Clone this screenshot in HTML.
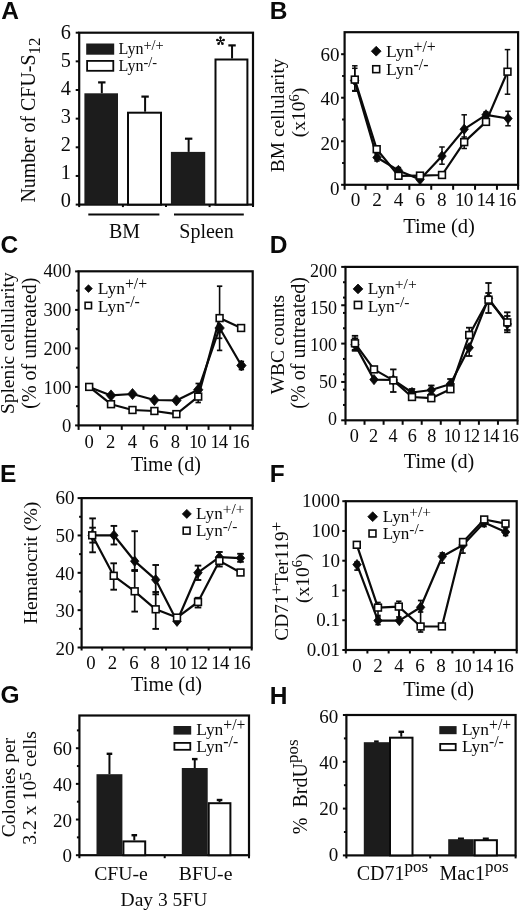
<!DOCTYPE html>
<html><head><meta charset="utf-8"><title>Figure</title>
<style>
html,body{margin:0;padding:0;background:#fff;width:520px;height:911px;overflow:hidden}
svg{display:block;will-change:transform}
text{fill:#0a0a0a;stroke:none}
</style></head><body>
<svg width="520" height="911" viewBox="0 0 520 911" stroke="#0a0a0a" fill="#0a0a0a">
<g stroke="#0a0a0a">
<text x="1.2" y="18.5" font-size="24.5" text-anchor="start" font-family='"Liberation Sans", sans-serif' font-weight="bold">A</text>
<rect x="79.2" y="32.7" width="173.8" height="171.9" fill="none" stroke-width="2.2"/>
<line x1="75.7" y1="204.6" x2="79.2" y2="204.6" stroke-width="2" stroke-linecap="butt"/>
<line x1="75.7" y1="175.95" x2="79.2" y2="175.95" stroke-width="2" stroke-linecap="butt"/>
<line x1="75.7" y1="147.3" x2="79.2" y2="147.3" stroke-width="2" stroke-linecap="butt"/>
<line x1="75.7" y1="118.65" x2="79.2" y2="118.65" stroke-width="2" stroke-linecap="butt"/>
<line x1="75.7" y1="90" x2="79.2" y2="90" stroke-width="2" stroke-linecap="butt"/>
<line x1="75.7" y1="61.35" x2="79.2" y2="61.35" stroke-width="2" stroke-linecap="butt"/>
<line x1="75.7" y1="32.7" x2="79.2" y2="32.7" stroke-width="2" stroke-linecap="butt"/>
<text x="71" y="207.46" font-size="20.3" text-anchor="end" font-family='"Liberation Serif", serif' font-weight="normal">0</text>
<text x="71" y="179.43" font-size="20.3" text-anchor="end" font-family='"Liberation Serif", serif' font-weight="normal">1</text>
<text x="71" y="151.4" font-size="20.3" text-anchor="end" font-family='"Liberation Serif", serif' font-weight="normal">2</text>
<text x="71" y="123.37" font-size="20.3" text-anchor="end" font-family='"Liberation Serif", serif' font-weight="normal">3</text>
<text x="71" y="95.34" font-size="20.3" text-anchor="end" font-family='"Liberation Serif", serif' font-weight="normal">4</text>
<text x="71" y="67.31" font-size="20.3" text-anchor="end" font-family='"Liberation Serif", serif' font-weight="normal">5</text>
<text x="71" y="39.28" font-size="20.3" text-anchor="end" font-family='"Liberation Serif", serif' font-weight="normal">6</text>
<line x1="79.2" y1="204.6" x2="79.2" y2="207.1" stroke-width="2" stroke-linecap="butt"/>
<line x1="122.9" y1="204.6" x2="122.9" y2="207.1" stroke-width="2" stroke-linecap="butt"/>
<line x1="166" y1="204.6" x2="166" y2="207.1" stroke-width="2" stroke-linecap="butt"/>
<line x1="209.6" y1="204.6" x2="209.6" y2="207.1" stroke-width="2" stroke-linecap="butt"/>
<line x1="253" y1="204.6" x2="253" y2="207.1" stroke-width="2" stroke-linecap="butt"/>
<line x1="101.8" y1="82.4" x2="101.8" y2="93.3" stroke-width="2" stroke-linecap="butt"/>
<line x1="98.1" y1="82.4" x2="105.5" y2="82.4" stroke-width="2.2" stroke-linecap="butt"/>
<rect x="84.4" y="93.3" width="33.6" height="111.3" fill="#1c1c1c" stroke="none"/>
<line x1="145.1" y1="96.6" x2="145.1" y2="111.7" stroke-width="2" stroke-linecap="butt"/>
<line x1="141.4" y1="96.6" x2="148.8" y2="96.6" stroke-width="2.2" stroke-linecap="butt"/>
<rect x="128" y="112.7" width="33" height="91.9" fill="#fff" stroke-width="2"/>
<line x1="188.65" y1="138.7" x2="188.65" y2="151.9" stroke-width="2" stroke-linecap="butt"/>
<line x1="184.95" y1="138.7" x2="192.35" y2="138.7" stroke-width="2.2" stroke-linecap="butt"/>
<rect x="170.9" y="151.9" width="34.3" height="52.7" fill="#1c1c1c" stroke="none"/>
<line x1="232.05" y1="45.4" x2="232.05" y2="58.5" stroke-width="2" stroke-linecap="butt"/>
<line x1="228.35" y1="45.4" x2="235.75" y2="45.4" stroke-width="2.2" stroke-linecap="butt"/>
<rect x="215.5" y="59.5" width="31.9" height="145.1" fill="#fff" stroke-width="2"/>
<line x1="220.5" y1="41" x2="220.5" y2="37.4" stroke-width="1.1" stroke-linecap="butt"/>
<circle cx="220.5" cy="37.7" r="1.35" fill="#0a0a0a" stroke="none"/>
<line x1="220.5" y1="41" x2="223.92" y2="39.89" stroke-width="1.1" stroke-linecap="butt"/>
<circle cx="223.64" cy="39.98" r="1.35" fill="#0a0a0a" stroke="none"/>
<line x1="220.5" y1="41" x2="222.62" y2="43.91" stroke-width="1.1" stroke-linecap="butt"/>
<circle cx="222.44" cy="43.67" r="1.35" fill="#0a0a0a" stroke="none"/>
<line x1="220.5" y1="41" x2="218.38" y2="43.91" stroke-width="1.1" stroke-linecap="butt"/>
<circle cx="218.56" cy="43.67" r="1.35" fill="#0a0a0a" stroke="none"/>
<line x1="220.5" y1="41" x2="217.08" y2="39.89" stroke-width="1.1" stroke-linecap="butt"/>
<circle cx="217.36" cy="39.98" r="1.35" fill="#0a0a0a" stroke="none"/>
<rect x="86.2" y="43.5" width="28" height="11.2" fill="#1c1c1c" stroke="none"/>
<rect x="87.1" y="60.9" width="26.2" height="9.9" fill="#fff" stroke-width="1.8"/>
<text x="118.5" y="54" font-size="16.05" text-anchor="start" font-family='"Liberation Serif", serif' font-weight="normal">Lyn<tspan font-size="14.45" dy="-4.33">+/+</tspan></text>
<text x="118.5" y="70.9" font-size="16.05" text-anchor="start" font-family='"Liberation Serif", serif' font-weight="normal">Lyn<tspan font-size="14.45" dy="-4.33">-/-</tspan></text>
<line x1="88.3" y1="214.6" x2="159.4" y2="214.6" stroke-width="2" stroke-linecap="butt"/>
<line x1="174" y1="214.6" x2="243.8" y2="214.6" stroke-width="2" stroke-linecap="butt"/>
<text x="124.5" y="237.7" font-size="20" text-anchor="middle" font-family='"Liberation Serif", serif' font-weight="normal">BM</text>
<text x="206.5" y="237.7" font-size="20" text-anchor="middle" font-family='"Liberation Serif", serif' font-weight="normal">Spleen</text>
<text x="34.7" y="202.6" font-size="19.9" text-anchor="start" font-family='"Liberation Serif", serif' font-weight="normal" transform="rotate(-90 34.7 202.6)">Number of CFU-S<tspan font-size="17" dy="5.8">12</tspan></text>
<text x="269.8" y="18.5" font-size="24.5" text-anchor="start" font-family='"Liberation Sans", sans-serif' font-weight="bold">B</text>
<rect x="344.6" y="32.2" width="173.5" height="152.6" fill="none" stroke-width="2.2"/>
<line x1="341.1" y1="184.8" x2="344.6" y2="184.8" stroke-width="2" stroke-linecap="butt"/>
<line x1="341.1" y1="141.27" x2="344.6" y2="141.27" stroke-width="2" stroke-linecap="butt"/>
<line x1="341.1" y1="97.73" x2="344.6" y2="97.73" stroke-width="2" stroke-linecap="butt"/>
<line x1="341.1" y1="54.2" x2="344.6" y2="54.2" stroke-width="2" stroke-linecap="butt"/>
<line x1="342.1" y1="163.03" x2="344.6" y2="163.03" stroke-width="2" stroke-linecap="butt"/>
<line x1="342.1" y1="119.5" x2="344.6" y2="119.5" stroke-width="2" stroke-linecap="butt"/>
<line x1="342.1" y1="75.97" x2="344.6" y2="75.97" stroke-width="2" stroke-linecap="butt"/>
<text x="339.6" y="194.67" font-size="19" text-anchor="end" font-family='"Liberation Serif", serif' font-weight="normal">0</text>
<text x="339.6" y="150.02" font-size="19" text-anchor="end" font-family='"Liberation Serif", serif' font-weight="normal">20</text>
<text x="339.6" y="105.37" font-size="19" text-anchor="end" font-family='"Liberation Serif", serif' font-weight="normal">40</text>
<text x="339.6" y="60.72" font-size="19" text-anchor="end" font-family='"Liberation Serif", serif' font-weight="normal">60</text>
<line x1="344.6" y1="184.8" x2="344.6" y2="189.8" stroke-width="2" stroke-linecap="butt"/>
<line x1="365.55" y1="184.8" x2="365.55" y2="189.8" stroke-width="2" stroke-linecap="butt"/>
<line x1="387.45" y1="184.8" x2="387.45" y2="189.8" stroke-width="2" stroke-linecap="butt"/>
<line x1="409.35" y1="184.8" x2="409.35" y2="189.8" stroke-width="2" stroke-linecap="butt"/>
<line x1="431.25" y1="184.8" x2="431.25" y2="189.8" stroke-width="2" stroke-linecap="butt"/>
<line x1="453.15" y1="184.8" x2="453.15" y2="189.8" stroke-width="2" stroke-linecap="butt"/>
<line x1="475.05" y1="184.8" x2="475.05" y2="189.8" stroke-width="2" stroke-linecap="butt"/>
<line x1="496.95" y1="184.8" x2="496.95" y2="189.8" stroke-width="2" stroke-linecap="butt"/>
<line x1="518.1" y1="184.8" x2="518.1" y2="189.8" stroke-width="2" stroke-linecap="butt"/>
<text x="355.5" y="206.4" font-size="19.2" text-anchor="middle" font-family='"Liberation Serif", serif' font-weight="normal">0</text>
<text x="377.07" y="206.4" font-size="19.2" text-anchor="middle" font-family='"Liberation Serif", serif' font-weight="normal">2</text>
<text x="398.64" y="206.4" font-size="19.2" text-anchor="middle" font-family='"Liberation Serif", serif' font-weight="normal">4</text>
<text x="420.21" y="206.4" font-size="19.2" text-anchor="middle" font-family='"Liberation Serif", serif' font-weight="normal">6</text>
<text x="441.78" y="206.4" font-size="19.2" text-anchor="middle" font-family='"Liberation Serif", serif' font-weight="normal">8</text>
<text x="463.75" y="206.4" font-size="19.2" text-anchor="middle" font-family='"Liberation Serif", serif' font-weight="normal" letter-spacing="-0.8">10</text>
<text x="485.32" y="206.4" font-size="19.2" text-anchor="middle" font-family='"Liberation Serif", serif' font-weight="normal" letter-spacing="-0.8">14</text>
<text x="506.89" y="206.4" font-size="19.2" text-anchor="middle" font-family='"Liberation Serif", serif' font-weight="normal" letter-spacing="-0.8">16</text>
<text x="439.1" y="233.4" font-size="20.5" text-anchor="middle" font-family='"Liberation Serif", serif' font-weight="normal">Time (d)</text>
<text x="284" y="115.3" font-size="19.4" text-anchor="middle" font-family='"Liberation Serif", serif' font-weight="normal" transform="rotate(-90 284 115.3)">BM cellularity</text>
<text x="305.5" y="112.6" font-size="19.5" text-anchor="middle" font-family='"Liberation Serif", serif' font-weight="normal" transform="rotate(-90 305.5 112.6)">(x10<tspan font-size="14.5" dy="-6.8">6</tspan><tspan dy="6.8">)</tspan></text>
<line x1="354.8" y1="65.8" x2="354.8" y2="91.2" stroke-width="1.5" stroke-linecap="butt"/>
<line x1="352.05" y1="65.8" x2="357.55" y2="65.8" stroke-width="1.5" stroke-linecap="butt"/>
<line x1="352.05" y1="91.2" x2="357.55" y2="91.2" stroke-width="1.5" stroke-linecap="butt"/>
<line x1="354.8" y1="68.3" x2="354.8" y2="90.6" stroke-width="1.5" stroke-linecap="butt"/>
<line x1="352.05" y1="68.3" x2="357.55" y2="68.3" stroke-width="1.5" stroke-linecap="butt"/>
<line x1="352.05" y1="90.6" x2="357.55" y2="90.6" stroke-width="1.5" stroke-linecap="butt"/>
<line x1="377" y1="154" x2="377" y2="161" stroke-width="1.5" stroke-linecap="butt"/>
<line x1="374.25" y1="154" x2="379.75" y2="154" stroke-width="1.5" stroke-linecap="butt"/>
<line x1="374.25" y1="161" x2="379.75" y2="161" stroke-width="1.5" stroke-linecap="butt"/>
<line x1="398.4" y1="167.5" x2="398.4" y2="173" stroke-width="1.5" stroke-linecap="butt"/>
<line x1="395.65" y1="167.5" x2="401.15" y2="167.5" stroke-width="1.5" stroke-linecap="butt"/>
<line x1="395.65" y1="173" x2="401.15" y2="173" stroke-width="1.5" stroke-linecap="butt"/>
<line x1="442" y1="147" x2="442" y2="164.2" stroke-width="1.5" stroke-linecap="butt"/>
<line x1="439.25" y1="147" x2="444.75" y2="147" stroke-width="1.5" stroke-linecap="butt"/>
<line x1="439.25" y1="164.2" x2="444.75" y2="164.2" stroke-width="1.5" stroke-linecap="butt"/>
<line x1="464.2" y1="114.8" x2="464.2" y2="143.6" stroke-width="1.5" stroke-linecap="butt"/>
<line x1="461.45" y1="114.8" x2="466.95" y2="114.8" stroke-width="1.5" stroke-linecap="butt"/>
<line x1="461.45" y1="143.6" x2="466.95" y2="143.6" stroke-width="1.5" stroke-linecap="butt"/>
<line x1="464.2" y1="137" x2="464.2" y2="148.5" stroke-width="1.5" stroke-linecap="butt"/>
<line x1="461.45" y1="137" x2="466.95" y2="137" stroke-width="1.5" stroke-linecap="butt"/>
<line x1="461.45" y1="148.5" x2="466.95" y2="148.5" stroke-width="1.5" stroke-linecap="butt"/>
<line x1="486" y1="112" x2="486" y2="118" stroke-width="1.5" stroke-linecap="butt"/>
<line x1="483.25" y1="112" x2="488.75" y2="112" stroke-width="1.5" stroke-linecap="butt"/>
<line x1="483.25" y1="118" x2="488.75" y2="118" stroke-width="1.5" stroke-linecap="butt"/>
<line x1="508" y1="111.3" x2="508" y2="125.8" stroke-width="1.5" stroke-linecap="butt"/>
<line x1="505.25" y1="111.3" x2="510.75" y2="111.3" stroke-width="1.5" stroke-linecap="butt"/>
<line x1="505.25" y1="125.8" x2="510.75" y2="125.8" stroke-width="1.5" stroke-linecap="butt"/>
<line x1="507.5" y1="49.6" x2="507.5" y2="94.2" stroke-width="1.5" stroke-linecap="butt"/>
<line x1="504.75" y1="49.6" x2="510.25" y2="49.6" stroke-width="1.5" stroke-linecap="butt"/>
<line x1="504.75" y1="94.2" x2="510.25" y2="94.2" stroke-width="1.5" stroke-linecap="butt"/>
<polyline points="354.6,80.5 377,157.5 398.4,170.4 420,179.6 442,156.1 464.2,129.2 486,114.8 508,118.5" fill="none" stroke-width="2.2" stroke-linejoin="round"/>
<polyline points="354.8,79.6 376.7,149.2 398.5,175.8 420,175.6 442,175 464.2,142.1 486,121.9 507.5,71.7" fill="none" stroke-width="2.2" stroke-linejoin="round"/>
<path d="M354.6 75.4L358.8 80.5L354.6 85.6L350.4 80.5Z" fill="#0a0a0a" stroke="#0a0a0a" stroke-width="0.8" stroke-linejoin="miter"/>
<path d="M377 152.4L381.2 157.5L377 162.6L372.8 157.5Z" fill="#0a0a0a" stroke="#0a0a0a" stroke-width="0.8" stroke-linejoin="miter"/>
<path d="M398.4 165.3L402.6 170.4L398.4 175.5L394.2 170.4Z" fill="#0a0a0a" stroke="#0a0a0a" stroke-width="0.8" stroke-linejoin="miter"/>
<path d="M420 174.5L424.2 179.6L420 184.7L415.8 179.6Z" fill="#0a0a0a" stroke="#0a0a0a" stroke-width="0.8" stroke-linejoin="miter"/>
<path d="M442 151L446.2 156.1L442 161.2L437.8 156.1Z" fill="#0a0a0a" stroke="#0a0a0a" stroke-width="0.8" stroke-linejoin="miter"/>
<path d="M464.2 124.1L468.4 129.2L464.2 134.3L460 129.2Z" fill="#0a0a0a" stroke="#0a0a0a" stroke-width="0.8" stroke-linejoin="miter"/>
<path d="M486 109.7L490.2 114.8L486 119.9L481.8 114.8Z" fill="#0a0a0a" stroke="#0a0a0a" stroke-width="0.8" stroke-linejoin="miter"/>
<path d="M508 113.4L512.2 118.5L508 123.6L503.8 118.5Z" fill="#0a0a0a" stroke="#0a0a0a" stroke-width="0.8" stroke-linejoin="miter"/>
<rect x="351.4" y="76.2" width="6.8" height="6.8" fill="#fff" stroke-width="1.6"/>
<rect x="373.3" y="145.8" width="6.8" height="6.8" fill="#fff" stroke-width="1.6"/>
<rect x="395.1" y="172.4" width="6.8" height="6.8" fill="#fff" stroke-width="1.6"/>
<rect x="416.6" y="172.2" width="6.8" height="6.8" fill="#fff" stroke-width="1.6"/>
<rect x="438.6" y="171.6" width="6.8" height="6.8" fill="#fff" stroke-width="1.6"/>
<rect x="460.8" y="138.7" width="6.8" height="6.8" fill="#fff" stroke-width="1.6"/>
<rect x="482.6" y="118.5" width="6.8" height="6.8" fill="#fff" stroke-width="1.6"/>
<rect x="504.1" y="68.3" width="6.8" height="6.8" fill="#fff" stroke-width="1.6"/>
<path d="M376.2 46.3L381.1 51.2L376.2 56.1L371.3 51.2Z" fill="#0a0a0a" stroke="#0a0a0a" stroke-width="0.8" stroke-linejoin="miter"/>
<rect x="372.75" y="65.75" width="6.9" height="6.9" fill="#fff" stroke-width="1.6"/>
<text x="386" y="57" font-size="17.66" text-anchor="start" font-family='"Liberation Serif", serif' font-weight="normal">Lyn<tspan font-size="15.89" dy="-4.77">+/+</tspan></text>
<text x="386" y="75" font-size="17.66" text-anchor="start" font-family='"Liberation Serif", serif' font-weight="normal">Lyn<tspan font-size="15.89" dy="-4.77">-/-</tspan></text>
<text x="0.5" y="253" font-size="24.5" text-anchor="start" font-family='"Liberation Sans", sans-serif' font-weight="bold">C</text>
<rect x="78.6" y="271.3" width="174.1" height="154.1" fill="none" stroke-width="2.2"/>
<line x1="75.1" y1="425.4" x2="78.6" y2="425.4" stroke-width="2" stroke-linecap="butt"/>
<line x1="75.1" y1="386.9" x2="78.6" y2="386.9" stroke-width="2" stroke-linecap="butt"/>
<line x1="75.1" y1="348.4" x2="78.6" y2="348.4" stroke-width="2" stroke-linecap="butt"/>
<line x1="75.1" y1="309.9" x2="78.6" y2="309.9" stroke-width="2" stroke-linecap="butt"/>
<line x1="75.1" y1="271.4" x2="78.6" y2="271.4" stroke-width="2" stroke-linecap="butt"/>
<line x1="76.1" y1="406.15" x2="78.6" y2="406.15" stroke-width="2" stroke-linecap="butt"/>
<line x1="76.1" y1="367.65" x2="78.6" y2="367.65" stroke-width="2" stroke-linecap="butt"/>
<line x1="76.1" y1="329.15" x2="78.6" y2="329.15" stroke-width="2" stroke-linecap="butt"/>
<line x1="76.1" y1="290.65" x2="78.6" y2="290.65" stroke-width="2" stroke-linecap="butt"/>
<text x="71.4" y="432.49" font-size="18.6" text-anchor="end" font-family='"Liberation Serif", serif' font-weight="normal">0</text>
<text x="71.4" y="393.59" font-size="18.6" text-anchor="end" font-family='"Liberation Serif", serif' font-weight="normal">100</text>
<text x="71.4" y="354.69" font-size="18.6" text-anchor="end" font-family='"Liberation Serif", serif' font-weight="normal">200</text>
<text x="71.4" y="315.79" font-size="18.6" text-anchor="end" font-family='"Liberation Serif", serif' font-weight="normal">300</text>
<text x="71.4" y="276.89" font-size="18.6" text-anchor="end" font-family='"Liberation Serif", serif' font-weight="normal">400</text>
<line x1="78.6" y1="425.4" x2="78.6" y2="429.9" stroke-width="2" stroke-linecap="butt"/>
<line x1="100.05" y1="425.4" x2="100.05" y2="429.9" stroke-width="2" stroke-linecap="butt"/>
<line x1="121.75" y1="425.4" x2="121.75" y2="429.9" stroke-width="2" stroke-linecap="butt"/>
<line x1="143.45" y1="425.4" x2="143.45" y2="429.9" stroke-width="2" stroke-linecap="butt"/>
<line x1="165.15" y1="425.4" x2="165.15" y2="429.9" stroke-width="2" stroke-linecap="butt"/>
<line x1="186.85" y1="425.4" x2="186.85" y2="429.9" stroke-width="2" stroke-linecap="butt"/>
<line x1="208.55" y1="425.4" x2="208.55" y2="429.9" stroke-width="2" stroke-linecap="butt"/>
<line x1="230.25" y1="425.4" x2="230.25" y2="429.9" stroke-width="2" stroke-linecap="butt"/>
<line x1="252.7" y1="425.4" x2="252.7" y2="429.9" stroke-width="2" stroke-linecap="butt"/>
<text x="89.25" y="447.9" font-size="18.6" text-anchor="middle" font-family='"Liberation Serif", serif' font-weight="normal">0</text>
<text x="110.77" y="447.9" font-size="18.6" text-anchor="middle" font-family='"Liberation Serif", serif' font-weight="normal">2</text>
<text x="132.29" y="447.9" font-size="18.6" text-anchor="middle" font-family='"Liberation Serif", serif' font-weight="normal">4</text>
<text x="153.81" y="447.9" font-size="18.6" text-anchor="middle" font-family='"Liberation Serif", serif' font-weight="normal">6</text>
<text x="175.33" y="447.9" font-size="18.6" text-anchor="middle" font-family='"Liberation Serif", serif' font-weight="normal">8</text>
<text x="197.3" y="447.9" font-size="18.6" text-anchor="middle" font-family='"Liberation Serif", serif' font-weight="normal" letter-spacing="-0.9">10</text>
<text x="218.82" y="447.9" font-size="18.6" text-anchor="middle" font-family='"Liberation Serif", serif' font-weight="normal" letter-spacing="-0.9">14</text>
<text x="240.34" y="447.9" font-size="18.6" text-anchor="middle" font-family='"Liberation Serif", serif' font-weight="normal" letter-spacing="-0.9">16</text>
<text x="131" y="470.8" font-size="20" text-anchor="start" font-family='"Liberation Serif", serif' font-weight="normal">Time (d)</text>
<text x="14.4" y="343.2" font-size="19.4" text-anchor="middle" font-family='"Liberation Serif", serif' font-weight="normal" transform="rotate(-90 14.4 343.2)">Splenic cellularity</text>
<text x="36" y="343.2" font-size="20" text-anchor="middle" font-family='"Liberation Serif", serif' font-weight="normal" transform="rotate(-90 36 343.2)">(% of untreated)</text>
<line x1="219.6" y1="286.2" x2="219.6" y2="318.1" stroke-width="1.6" stroke-linecap="butt"/>
<line x1="216.9" y1="286.2" x2="222.3" y2="286.2" stroke-width="1.7" stroke-linecap="butt"/>
<line x1="216.9" y1="318.1" x2="222.3" y2="318.1" stroke-width="1.7" stroke-linecap="butt"/>
<line x1="219.6" y1="328" x2="219.6" y2="350.4" stroke-width="1.6" stroke-linecap="butt"/>
<line x1="216.9" y1="328" x2="222.3" y2="328" stroke-width="1.7" stroke-linecap="butt"/>
<line x1="216.9" y1="350.4" x2="222.3" y2="350.4" stroke-width="1.7" stroke-linecap="butt"/>
<line x1="219.6" y1="328" x2="219.6" y2="338.3" stroke-width="1.6" stroke-linecap="butt"/>
<line x1="216.9" y1="328" x2="222.3" y2="328" stroke-width="1.7" stroke-linecap="butt"/>
<line x1="216.9" y1="338.3" x2="222.3" y2="338.3" stroke-width="1.7" stroke-linecap="butt"/>
<line x1="198.2" y1="383.5" x2="198.2" y2="402.5" stroke-width="1.6" stroke-linecap="butt"/>
<line x1="195.5" y1="383.5" x2="200.9" y2="383.5" stroke-width="1.7" stroke-linecap="butt"/>
<line x1="195.5" y1="402.5" x2="200.9" y2="402.5" stroke-width="1.7" stroke-linecap="butt"/>
<line x1="241.4" y1="361.5" x2="241.4" y2="369.5" stroke-width="1.6" stroke-linecap="butt"/>
<line x1="238.7" y1="361.5" x2="244.1" y2="361.5" stroke-width="1.7" stroke-linecap="butt"/>
<line x1="238.7" y1="369.5" x2="244.1" y2="369.5" stroke-width="1.7" stroke-linecap="butt"/>
<polyline points="89.2,386.9 111,395.4 132.5,394 154.4,400 176.4,400.4 198.2,389.8 219.6,328 241.4,365.5" fill="none" stroke-width="2.2" stroke-linejoin="round"/>
<polyline points="89.2,386.9 111,404.2 132.5,410 154.4,411 176.4,414.1 198.2,396.6 219.6,318.1 241.1,328" fill="none" stroke-width="2.2" stroke-linejoin="round"/>
<path d="M111 389.9L115.7 395.4L111 400.9L106.3 395.4Z" fill="#0a0a0a" stroke="#0a0a0a" stroke-width="0.8" stroke-linejoin="miter"/>
<path d="M132.5 388.5L137.2 394L132.5 399.5L127.8 394Z" fill="#0a0a0a" stroke="#0a0a0a" stroke-width="0.8" stroke-linejoin="miter"/>
<path d="M154.4 394.5L159.1 400L154.4 405.5L149.7 400Z" fill="#0a0a0a" stroke="#0a0a0a" stroke-width="0.8" stroke-linejoin="miter"/>
<path d="M176.4 394.9L181.1 400.4L176.4 405.9L171.7 400.4Z" fill="#0a0a0a" stroke="#0a0a0a" stroke-width="0.8" stroke-linejoin="miter"/>
<path d="M198.2 384.3L202.9 389.8L198.2 395.3L193.5 389.8Z" fill="#0a0a0a" stroke="#0a0a0a" stroke-width="0.8" stroke-linejoin="miter"/>
<path d="M219.6 322.5L224.3 328L219.6 333.5L214.9 328Z" fill="#0a0a0a" stroke="#0a0a0a" stroke-width="0.8" stroke-linejoin="miter"/>
<path d="M241.4 360L246.1 365.5L241.4 371L236.7 365.5Z" fill="#0a0a0a" stroke="#0a0a0a" stroke-width="0.8" stroke-linejoin="miter"/>
<rect x="85.8" y="383.5" width="6.8" height="6.8" fill="#fff" stroke-width="1.6"/>
<rect x="107.6" y="400.8" width="6.8" height="6.8" fill="#fff" stroke-width="1.6"/>
<rect x="129.1" y="406.6" width="6.8" height="6.8" fill="#fff" stroke-width="1.6"/>
<rect x="151" y="407.6" width="6.8" height="6.8" fill="#fff" stroke-width="1.6"/>
<rect x="173" y="410.7" width="6.8" height="6.8" fill="#fff" stroke-width="1.6"/>
<rect x="194.8" y="393.2" width="6.8" height="6.8" fill="#fff" stroke-width="1.6"/>
<rect x="216.2" y="314.7" width="6.8" height="6.8" fill="#fff" stroke-width="1.6"/>
<rect x="237.7" y="324.6" width="6.8" height="6.8" fill="#fff" stroke-width="1.6"/>
<path d="M88.5 284.8L92.3 288.6L88.5 292.4L84.7 288.6Z" fill="#0a0a0a" stroke="#0a0a0a" stroke-width="0.8" stroke-linejoin="miter"/>
<rect x="85.1" y="302.3" width="6.4" height="6.4" fill="#fff" stroke-width="1.6"/>
<text x="97.7" y="294.2" font-size="17.55" text-anchor="start" font-family='"Liberation Serif", serif' font-weight="normal">Lyn<tspan font-size="15.79" dy="-4.74">+/+</tspan></text>
<text x="97.7" y="312" font-size="17.55" text-anchor="start" font-family='"Liberation Serif", serif' font-weight="normal">Lyn<tspan font-size="15.79" dy="-4.74">-/-</tspan></text>
<text x="269.8" y="253.3" font-size="24.5" text-anchor="start" font-family='"Liberation Sans", sans-serif' font-weight="bold">D</text>
<rect x="345.5" y="266.9" width="172" height="153.4" fill="none" stroke-width="2.2"/>
<line x1="341.2" y1="420.3" x2="345.5" y2="420.3" stroke-width="2" stroke-linecap="butt"/>
<line x1="341.2" y1="381.95" x2="345.5" y2="381.95" stroke-width="2" stroke-linecap="butt"/>
<line x1="341.2" y1="343.6" x2="345.5" y2="343.6" stroke-width="2" stroke-linecap="butt"/>
<line x1="341.2" y1="305.25" x2="345.5" y2="305.25" stroke-width="2" stroke-linecap="butt"/>
<line x1="341.2" y1="266.9" x2="345.5" y2="266.9" stroke-width="2" stroke-linecap="butt"/>
<line x1="343" y1="404.96" x2="345.5" y2="404.96" stroke-width="2" stroke-linecap="butt"/>
<line x1="343" y1="389.62" x2="345.5" y2="389.62" stroke-width="2" stroke-linecap="butt"/>
<line x1="343" y1="374.28" x2="345.5" y2="374.28" stroke-width="2" stroke-linecap="butt"/>
<line x1="343" y1="358.94" x2="345.5" y2="358.94" stroke-width="2" stroke-linecap="butt"/>
<line x1="343" y1="328.26" x2="345.5" y2="328.26" stroke-width="2" stroke-linecap="butt"/>
<line x1="343" y1="312.92" x2="345.5" y2="312.92" stroke-width="2" stroke-linecap="butt"/>
<line x1="343" y1="297.58" x2="345.5" y2="297.58" stroke-width="2" stroke-linecap="butt"/>
<line x1="343" y1="282.24" x2="345.5" y2="282.24" stroke-width="2" stroke-linecap="butt"/>
<text x="337" y="425.08" font-size="18" text-anchor="end" font-family='"Liberation Serif", serif' font-weight="normal">0</text>
<text x="337" y="387.98" font-size="18" text-anchor="end" font-family='"Liberation Serif", serif' font-weight="normal">50</text>
<text x="337" y="350.88" font-size="18" text-anchor="end" font-family='"Liberation Serif", serif' font-weight="normal">100</text>
<text x="337" y="313.78" font-size="18" text-anchor="end" font-family='"Liberation Serif", serif' font-weight="normal">150</text>
<text x="337" y="276.68" font-size="18" text-anchor="end" font-family='"Liberation Serif", serif' font-weight="normal">200</text>
<line x1="345.5" y1="420.3" x2="345.5" y2="424.8" stroke-width="2" stroke-linecap="butt"/>
<line x1="364.53" y1="420.3" x2="364.53" y2="424.8" stroke-width="2" stroke-linecap="butt"/>
<line x1="383.59" y1="420.3" x2="383.59" y2="424.8" stroke-width="2" stroke-linecap="butt"/>
<line x1="402.65" y1="420.3" x2="402.65" y2="424.8" stroke-width="2" stroke-linecap="butt"/>
<line x1="421.71" y1="420.3" x2="421.71" y2="424.8" stroke-width="2" stroke-linecap="butt"/>
<line x1="440.77" y1="420.3" x2="440.77" y2="424.8" stroke-width="2" stroke-linecap="butt"/>
<line x1="459.83" y1="420.3" x2="459.83" y2="424.8" stroke-width="2" stroke-linecap="butt"/>
<line x1="478.89" y1="420.3" x2="478.89" y2="424.8" stroke-width="2" stroke-linecap="butt"/>
<line x1="497.95" y1="420.3" x2="497.95" y2="424.8" stroke-width="2" stroke-linecap="butt"/>
<line x1="517.5" y1="420.3" x2="517.5" y2="424.8" stroke-width="2" stroke-linecap="butt"/>
<text x="354.25" y="441.6" font-size="18.2" text-anchor="middle" font-family='"Liberation Serif", serif' font-weight="normal">0</text>
<text x="373.62" y="441.6" font-size="18.2" text-anchor="middle" font-family='"Liberation Serif", serif' font-weight="normal">2</text>
<text x="392.99" y="441.6" font-size="18.2" text-anchor="middle" font-family='"Liberation Serif", serif' font-weight="normal">4</text>
<text x="412.36" y="441.6" font-size="18.2" text-anchor="middle" font-family='"Liberation Serif", serif' font-weight="normal">6</text>
<text x="431.73" y="441.6" font-size="18.2" text-anchor="middle" font-family='"Liberation Serif", serif' font-weight="normal">8</text>
<text x="451.6" y="441.6" font-size="18.2" text-anchor="middle" font-family='"Liberation Serif", serif' font-weight="normal" letter-spacing="-1">10</text>
<text x="470.97" y="441.6" font-size="18.2" text-anchor="middle" font-family='"Liberation Serif", serif' font-weight="normal" letter-spacing="-1">12</text>
<text x="490.34" y="441.6" font-size="18.2" text-anchor="middle" font-family='"Liberation Serif", serif' font-weight="normal" letter-spacing="-1">14</text>
<text x="509.71" y="441.6" font-size="18.2" text-anchor="middle" font-family='"Liberation Serif", serif' font-weight="normal" letter-spacing="-1">16</text>
<text x="439.1" y="467.5" font-size="20.2" text-anchor="middle" font-family='"Liberation Serif", serif' font-weight="normal">Time (d)</text>
<text x="284" y="344.6" font-size="19.3" text-anchor="middle" font-family='"Liberation Serif", serif' font-weight="normal" transform="rotate(-90 284 344.6)">WBC counts</text>
<text x="304.9" y="342.8" font-size="20.1" text-anchor="middle" font-family='"Liberation Serif", serif' font-weight="normal" transform="rotate(-90 304.9 342.8)">(% of untreated)</text>
<line x1="355" y1="335.8" x2="355" y2="350.8" stroke-width="1.6" stroke-linecap="butt"/>
<line x1="351.8" y1="335.8" x2="358.2" y2="335.8" stroke-width="1.8" stroke-linecap="butt"/>
<line x1="351.8" y1="350.8" x2="358.2" y2="350.8" stroke-width="1.8" stroke-linecap="butt"/>
<line x1="355" y1="338.3" x2="355" y2="349.8" stroke-width="1.6" stroke-linecap="butt"/>
<line x1="351.8" y1="338.3" x2="358.2" y2="338.3" stroke-width="1.8" stroke-linecap="butt"/>
<line x1="351.8" y1="349.8" x2="358.2" y2="349.8" stroke-width="1.8" stroke-linecap="butt"/>
<line x1="393.3" y1="369.4" x2="393.3" y2="392" stroke-width="1.6" stroke-linecap="butt"/>
<line x1="390.1" y1="369.4" x2="396.5" y2="369.4" stroke-width="1.8" stroke-linecap="butt"/>
<line x1="390.1" y1="392" x2="396.5" y2="392" stroke-width="1.8" stroke-linecap="butt"/>
<line x1="412" y1="389" x2="412" y2="396" stroke-width="1.6" stroke-linecap="butt"/>
<line x1="408.8" y1="389" x2="415.2" y2="389" stroke-width="1.8" stroke-linecap="butt"/>
<line x1="408.8" y1="396" x2="415.2" y2="396" stroke-width="1.8" stroke-linecap="butt"/>
<line x1="431.3" y1="385.5" x2="431.3" y2="394" stroke-width="1.6" stroke-linecap="butt"/>
<line x1="428.1" y1="385.5" x2="434.5" y2="385.5" stroke-width="1.8" stroke-linecap="butt"/>
<line x1="428.1" y1="394" x2="434.5" y2="394" stroke-width="1.8" stroke-linecap="butt"/>
<line x1="450.4" y1="379" x2="450.4" y2="392" stroke-width="1.6" stroke-linecap="butt"/>
<line x1="447.2" y1="379" x2="453.6" y2="379" stroke-width="1.8" stroke-linecap="butt"/>
<line x1="447.2" y1="392" x2="453.6" y2="392" stroke-width="1.8" stroke-linecap="butt"/>
<line x1="469.2" y1="327.7" x2="469.2" y2="335" stroke-width="1.6" stroke-linecap="butt"/>
<line x1="466" y1="327.7" x2="472.4" y2="327.7" stroke-width="1.8" stroke-linecap="butt"/>
<line x1="466" y1="335" x2="472.4" y2="335" stroke-width="1.8" stroke-linecap="butt"/>
<line x1="469.2" y1="347.7" x2="469.2" y2="356" stroke-width="1.6" stroke-linecap="butt"/>
<line x1="466" y1="347.7" x2="472.4" y2="347.7" stroke-width="1.8" stroke-linecap="butt"/>
<line x1="466" y1="356" x2="472.4" y2="356" stroke-width="1.8" stroke-linecap="butt"/>
<line x1="488.5" y1="283" x2="488.5" y2="313" stroke-width="1.6" stroke-linecap="butt"/>
<line x1="485.3" y1="283" x2="491.7" y2="283" stroke-width="1.8" stroke-linecap="butt"/>
<line x1="485.3" y1="313" x2="491.7" y2="313" stroke-width="1.8" stroke-linecap="butt"/>
<line x1="488.5" y1="293" x2="488.5" y2="304" stroke-width="1.6" stroke-linecap="butt"/>
<line x1="485.3" y1="293" x2="491.7" y2="293" stroke-width="1.8" stroke-linecap="butt"/>
<line x1="485.3" y1="304" x2="491.7" y2="304" stroke-width="1.8" stroke-linecap="butt"/>
<line x1="507.3" y1="312.3" x2="507.3" y2="332.3" stroke-width="1.6" stroke-linecap="butt"/>
<line x1="504.1" y1="312.3" x2="510.5" y2="312.3" stroke-width="1.8" stroke-linecap="butt"/>
<line x1="504.1" y1="332.3" x2="510.5" y2="332.3" stroke-width="1.8" stroke-linecap="butt"/>
<line x1="507.3" y1="316" x2="507.3" y2="330" stroke-width="1.6" stroke-linecap="butt"/>
<line x1="504.1" y1="316" x2="510.5" y2="316" stroke-width="1.8" stroke-linecap="butt"/>
<line x1="504.1" y1="330" x2="510.5" y2="330" stroke-width="1.8" stroke-linecap="butt"/>
<polyline points="355,344.8 374,379.6 393.3,380 412,392.5 431.3,390 450.4,384 469.2,347.7 488.5,298.3 507.3,324" fill="none" stroke-width="2.2" stroke-linejoin="round"/>
<polyline points="355,343.3 374,369.4 393.3,380.4 412,397 431.3,398.2 450.4,389.2 469.2,335 488.5,299.7 507.3,322.4" fill="none" stroke-width="2.2" stroke-linejoin="round"/>
<path d="M355 339.7L359.2 344.8L355 349.9L350.8 344.8Z" fill="#0a0a0a" stroke="#0a0a0a" stroke-width="0.8" stroke-linejoin="miter"/>
<path d="M374 374.5L378.2 379.6L374 384.7L369.8 379.6Z" fill="#0a0a0a" stroke="#0a0a0a" stroke-width="0.8" stroke-linejoin="miter"/>
<path d="M393.3 374.9L397.5 380L393.3 385.1L389.1 380Z" fill="#0a0a0a" stroke="#0a0a0a" stroke-width="0.8" stroke-linejoin="miter"/>
<path d="M412 387.4L416.2 392.5L412 397.6L407.8 392.5Z" fill="#0a0a0a" stroke="#0a0a0a" stroke-width="0.8" stroke-linejoin="miter"/>
<path d="M431.3 384.9L435.5 390L431.3 395.1L427.1 390Z" fill="#0a0a0a" stroke="#0a0a0a" stroke-width="0.8" stroke-linejoin="miter"/>
<path d="M450.4 378.9L454.6 384L450.4 389.1L446.2 384Z" fill="#0a0a0a" stroke="#0a0a0a" stroke-width="0.8" stroke-linejoin="miter"/>
<path d="M469.2 342.6L473.4 347.7L469.2 352.8L465 347.7Z" fill="#0a0a0a" stroke="#0a0a0a" stroke-width="0.8" stroke-linejoin="miter"/>
<path d="M488.5 293.2L492.7 298.3L488.5 303.4L484.3 298.3Z" fill="#0a0a0a" stroke="#0a0a0a" stroke-width="0.8" stroke-linejoin="miter"/>
<path d="M507.3 318.9L511.5 324L507.3 329.1L503.1 324Z" fill="#0a0a0a" stroke="#0a0a0a" stroke-width="0.8" stroke-linejoin="miter"/>
<rect x="351.6" y="339.9" width="6.8" height="6.8" fill="#fff" stroke-width="1.6"/>
<rect x="370.6" y="366" width="6.8" height="6.8" fill="#fff" stroke-width="1.6"/>
<rect x="389.9" y="377" width="6.8" height="6.8" fill="#fff" stroke-width="1.6"/>
<rect x="408.6" y="393.6" width="6.8" height="6.8" fill="#fff" stroke-width="1.6"/>
<rect x="427.9" y="394.8" width="6.8" height="6.8" fill="#fff" stroke-width="1.6"/>
<rect x="447" y="385.8" width="6.8" height="6.8" fill="#fff" stroke-width="1.6"/>
<rect x="465.8" y="331.6" width="6.8" height="6.8" fill="#fff" stroke-width="1.6"/>
<rect x="485.1" y="296.3" width="6.8" height="6.8" fill="#fff" stroke-width="1.6"/>
<rect x="503.9" y="319" width="6.8" height="6.8" fill="#fff" stroke-width="1.6"/>
<path d="M358 284L362.9 288.9L358 293.8L353.1 288.9Z" fill="#0a0a0a" stroke="#0a0a0a" stroke-width="0.8" stroke-linejoin="miter"/>
<rect x="354.4" y="301.4" width="7.2" height="7.2" fill="#fff" stroke-width="1.6"/>
<text x="367.8" y="293.8" font-size="17.33" text-anchor="start" font-family='"Liberation Serif", serif' font-weight="normal">Lyn<tspan font-size="15.6" dy="-4.68">+/+</tspan></text>
<text x="367.8" y="311.5" font-size="17.33" text-anchor="start" font-family='"Liberation Serif", serif' font-weight="normal">Lyn<tspan font-size="15.6" dy="-4.68">-/-</tspan></text>
<text x="0" y="482.3" font-size="24.5" text-anchor="start" font-family='"Liberation Sans", sans-serif' font-weight="bold">E</text>
<rect x="81.6" y="498.1" width="170.1" height="149.4" fill="none" stroke-width="2.2"/>
<line x1="77.6" y1="647.5" x2="81.6" y2="647.5" stroke-width="2" stroke-linecap="butt"/>
<line x1="77.6" y1="610.15" x2="81.6" y2="610.15" stroke-width="2" stroke-linecap="butt"/>
<line x1="77.6" y1="572.8" x2="81.6" y2="572.8" stroke-width="2" stroke-linecap="butt"/>
<line x1="77.6" y1="535.45" x2="81.6" y2="535.45" stroke-width="2" stroke-linecap="butt"/>
<line x1="77.6" y1="498.1" x2="81.6" y2="498.1" stroke-width="2" stroke-linecap="butt"/>
<line x1="79.1" y1="628.83" x2="81.6" y2="628.83" stroke-width="2" stroke-linecap="butt"/>
<line x1="79.1" y1="591.48" x2="81.6" y2="591.48" stroke-width="2" stroke-linecap="butt"/>
<line x1="79.1" y1="554.12" x2="81.6" y2="554.12" stroke-width="2" stroke-linecap="butt"/>
<line x1="79.1" y1="516.78" x2="81.6" y2="516.78" stroke-width="2" stroke-linecap="butt"/>
<text x="74.5" y="655.17" font-size="19" text-anchor="end" font-family='"Liberation Serif", serif' font-weight="normal">20</text>
<text x="74.5" y="617.4" font-size="19" text-anchor="end" font-family='"Liberation Serif", serif' font-weight="normal">30</text>
<text x="74.5" y="579.63" font-size="19" text-anchor="end" font-family='"Liberation Serif", serif' font-weight="normal">40</text>
<text x="74.5" y="541.86" font-size="19" text-anchor="end" font-family='"Liberation Serif", serif' font-weight="normal">50</text>
<text x="74.5" y="504.09" font-size="19" text-anchor="end" font-family='"Liberation Serif", serif' font-weight="normal">60</text>
<line x1="81.6" y1="647.5" x2="81.6" y2="650.5" stroke-width="2" stroke-linecap="butt"/>
<line x1="102.15" y1="647.5" x2="102.15" y2="650.5" stroke-width="2" stroke-linecap="butt"/>
<line x1="123.45" y1="647.5" x2="123.45" y2="650.5" stroke-width="2" stroke-linecap="butt"/>
<line x1="144.75" y1="647.5" x2="144.75" y2="650.5" stroke-width="2" stroke-linecap="butt"/>
<line x1="166.05" y1="647.5" x2="166.05" y2="650.5" stroke-width="2" stroke-linecap="butt"/>
<line x1="187.35" y1="647.5" x2="187.35" y2="650.5" stroke-width="2" stroke-linecap="butt"/>
<line x1="208.65" y1="647.5" x2="208.65" y2="650.5" stroke-width="2" stroke-linecap="butt"/>
<line x1="229.95" y1="647.5" x2="229.95" y2="650.5" stroke-width="2" stroke-linecap="butt"/>
<line x1="251.7" y1="647.5" x2="251.7" y2="650.5" stroke-width="2" stroke-linecap="butt"/>
<text x="91.05" y="669" font-size="18.8" text-anchor="middle" font-family='"Liberation Serif", serif' font-weight="normal">0</text>
<text x="112.46" y="669" font-size="18.8" text-anchor="middle" font-family='"Liberation Serif", serif' font-weight="normal">2</text>
<text x="133.87" y="669" font-size="18.8" text-anchor="middle" font-family='"Liberation Serif", serif' font-weight="normal">6</text>
<text x="155.28" y="669" font-size="18.8" text-anchor="middle" font-family='"Liberation Serif", serif' font-weight="normal">8</text>
<text x="177.09" y="669" font-size="18.8" text-anchor="middle" font-family='"Liberation Serif", serif' font-weight="normal" letter-spacing="-0.8">10</text>
<text x="198.5" y="669" font-size="18.8" text-anchor="middle" font-family='"Liberation Serif", serif' font-weight="normal" letter-spacing="-0.8">12</text>
<text x="219.91" y="669" font-size="18.8" text-anchor="middle" font-family='"Liberation Serif", serif' font-weight="normal" letter-spacing="-0.8">14</text>
<text x="241.32" y="669" font-size="18.8" text-anchor="middle" font-family='"Liberation Serif", serif' font-weight="normal" letter-spacing="-0.8">16</text>
<text x="166.5" y="691.3" font-size="20.3" text-anchor="middle" font-family='"Liberation Serif", serif' font-weight="normal">Time (d)</text>
<text x="36.7" y="562.9" font-size="19.6" text-anchor="middle" font-family='"Liberation Serif", serif' font-weight="normal" transform="rotate(-90 36.7 562.9)">Hematocrit (%)</text>
<line x1="92.6" y1="518.4" x2="92.6" y2="552.3" stroke-width="1.7" stroke-linecap="butt"/>
<line x1="89.3" y1="518.4" x2="95.9" y2="518.4" stroke-width="1.9" stroke-linecap="butt"/>
<line x1="89.3" y1="552.3" x2="95.9" y2="552.3" stroke-width="1.9" stroke-linecap="butt"/>
<line x1="92.6" y1="527.7" x2="92.6" y2="542.6" stroke-width="1.7" stroke-linecap="butt"/>
<line x1="89.3" y1="527.7" x2="95.9" y2="527.7" stroke-width="1.9" stroke-linecap="butt"/>
<line x1="89.3" y1="542.6" x2="95.9" y2="542.6" stroke-width="1.9" stroke-linecap="butt"/>
<line x1="113.9" y1="525.9" x2="113.9" y2="544.5" stroke-width="1.7" stroke-linecap="butt"/>
<line x1="110.6" y1="525.9" x2="117.2" y2="525.9" stroke-width="1.9" stroke-linecap="butt"/>
<line x1="110.6" y1="544.5" x2="117.2" y2="544.5" stroke-width="1.9" stroke-linecap="butt"/>
<line x1="113.7" y1="563.3" x2="113.7" y2="589.7" stroke-width="1.7" stroke-linecap="butt"/>
<line x1="110.4" y1="563.3" x2="117" y2="563.3" stroke-width="1.9" stroke-linecap="butt"/>
<line x1="110.4" y1="589.7" x2="117" y2="589.7" stroke-width="1.9" stroke-linecap="butt"/>
<line x1="134.7" y1="531.2" x2="134.7" y2="570" stroke-width="1.7" stroke-linecap="butt"/>
<line x1="131.4" y1="531.2" x2="138" y2="531.2" stroke-width="1.9" stroke-linecap="butt"/>
<line x1="131.4" y1="570" x2="138" y2="570" stroke-width="1.9" stroke-linecap="butt"/>
<line x1="134.7" y1="571" x2="134.7" y2="611.6" stroke-width="1.7" stroke-linecap="butt"/>
<line x1="131.4" y1="571" x2="138" y2="571" stroke-width="1.9" stroke-linecap="butt"/>
<line x1="131.4" y1="611.6" x2="138" y2="611.6" stroke-width="1.9" stroke-linecap="butt"/>
<line x1="155.7" y1="565" x2="155.7" y2="594.3" stroke-width="1.7" stroke-linecap="butt"/>
<line x1="152.4" y1="565" x2="159" y2="565" stroke-width="1.9" stroke-linecap="butt"/>
<line x1="152.4" y1="594.3" x2="159" y2="594.3" stroke-width="1.9" stroke-linecap="butt"/>
<line x1="155.7" y1="592" x2="155.7" y2="628.9" stroke-width="1.7" stroke-linecap="butt"/>
<line x1="152.4" y1="592" x2="159" y2="592" stroke-width="1.9" stroke-linecap="butt"/>
<line x1="152.4" y1="628.9" x2="159" y2="628.9" stroke-width="1.9" stroke-linecap="butt"/>
<line x1="198" y1="565.6" x2="198" y2="580" stroke-width="1.7" stroke-linecap="butt"/>
<line x1="194.7" y1="565.6" x2="201.3" y2="565.6" stroke-width="1.9" stroke-linecap="butt"/>
<line x1="194.7" y1="580" x2="201.3" y2="580" stroke-width="1.9" stroke-linecap="butt"/>
<line x1="198" y1="597.8" x2="198" y2="607.5" stroke-width="1.7" stroke-linecap="butt"/>
<line x1="194.7" y1="597.8" x2="201.3" y2="597.8" stroke-width="1.9" stroke-linecap="butt"/>
<line x1="194.7" y1="607.5" x2="201.3" y2="607.5" stroke-width="1.9" stroke-linecap="butt"/>
<line x1="219.4" y1="552" x2="219.4" y2="566.5" stroke-width="1.7" stroke-linecap="butt"/>
<line x1="216.1" y1="552" x2="222.7" y2="552" stroke-width="1.9" stroke-linecap="butt"/>
<line x1="216.1" y1="566.5" x2="222.7" y2="566.5" stroke-width="1.9" stroke-linecap="butt"/>
<line x1="240.5" y1="553.8" x2="240.5" y2="561.8" stroke-width="1.7" stroke-linecap="butt"/>
<line x1="237.2" y1="553.8" x2="243.8" y2="553.8" stroke-width="1.9" stroke-linecap="butt"/>
<line x1="237.2" y1="561.8" x2="243.8" y2="561.8" stroke-width="1.9" stroke-linecap="butt"/>
<polyline points="92.2,535.3 113.9,535.3 134.7,561.2 155.7,579.7 177,621.3 198,572.7 219.4,557.2 240.5,558.1" fill="none" stroke-width="2.2" stroke-linejoin="round"/>
<polyline points="92.2,535.3 113.7,575.8 134.7,591.3 155.7,609.3 177,617.6 198,602 219.4,560.9 240.5,572.5" fill="none" stroke-width="2.2" stroke-linejoin="round"/>
<path d="M92.2 530.2L96.4 535.3L92.2 540.4L88 535.3Z" fill="#0a0a0a" stroke="#0a0a0a" stroke-width="0.8" stroke-linejoin="miter"/>
<path d="M113.9 530.2L118.1 535.3L113.9 540.4L109.7 535.3Z" fill="#0a0a0a" stroke="#0a0a0a" stroke-width="0.8" stroke-linejoin="miter"/>
<path d="M134.7 556.1L138.9 561.2L134.7 566.3L130.5 561.2Z" fill="#0a0a0a" stroke="#0a0a0a" stroke-width="0.8" stroke-linejoin="miter"/>
<path d="M155.7 574.6L159.9 579.7L155.7 584.8L151.5 579.7Z" fill="#0a0a0a" stroke="#0a0a0a" stroke-width="0.8" stroke-linejoin="miter"/>
<path d="M177 616.2L181.2 621.3L177 626.4L172.8 621.3Z" fill="#0a0a0a" stroke="#0a0a0a" stroke-width="0.8" stroke-linejoin="miter"/>
<path d="M198 567.6L202.2 572.7L198 577.8L193.8 572.7Z" fill="#0a0a0a" stroke="#0a0a0a" stroke-width="0.8" stroke-linejoin="miter"/>
<path d="M219.4 552.1L223.6 557.2L219.4 562.3L215.2 557.2Z" fill="#0a0a0a" stroke="#0a0a0a" stroke-width="0.8" stroke-linejoin="miter"/>
<path d="M240.5 553L244.7 558.1L240.5 563.2L236.3 558.1Z" fill="#0a0a0a" stroke="#0a0a0a" stroke-width="0.8" stroke-linejoin="miter"/>
<rect x="88.8" y="531.9" width="6.8" height="6.8" fill="#fff" stroke-width="1.6"/>
<rect x="110.3" y="572.4" width="6.8" height="6.8" fill="#fff" stroke-width="1.6"/>
<rect x="131.3" y="587.9" width="6.8" height="6.8" fill="#fff" stroke-width="1.6"/>
<rect x="152.3" y="605.9" width="6.8" height="6.8" fill="#fff" stroke-width="1.6"/>
<rect x="173.6" y="614.2" width="6.8" height="6.8" fill="#fff" stroke-width="1.6"/>
<rect x="194.6" y="598.6" width="6.8" height="6.8" fill="#fff" stroke-width="1.6"/>
<rect x="216" y="557.5" width="6.8" height="6.8" fill="#fff" stroke-width="1.6"/>
<rect x="237.1" y="569.1" width="6.8" height="6.8" fill="#fff" stroke-width="1.6"/>
<path d="M186.8 509.4L191.3 513.9L186.8 518.4L182.3 513.9Z" fill="#0a0a0a" stroke="#0a0a0a" stroke-width="0.8" stroke-linejoin="miter"/>
<rect x="183.2" y="527.3" width="6.8" height="6.8" fill="#fff" stroke-width="1.6"/>
<text x="196.1" y="518.9" font-size="17.12" text-anchor="start" font-family='"Liberation Serif", serif' font-weight="normal">Lyn<tspan font-size="15.41" dy="-4.62">+/+</tspan></text>
<text x="196.1" y="535.7" font-size="17.12" text-anchor="start" font-family='"Liberation Serif", serif' font-weight="normal">Lyn<tspan font-size="15.41" dy="-4.62">-/-</tspan></text>
<text x="269.8" y="482.3" font-size="24.5" text-anchor="start" font-family='"Liberation Sans", sans-serif' font-weight="bold">F</text>
<rect x="345.8" y="501.2" width="170.9" height="148.8" fill="none" stroke-width="2.2"/>
<line x1="342.3" y1="650" x2="345.8" y2="650" stroke-width="2" stroke-linecap="butt"/>
<line x1="342.3" y1="620.24" x2="345.8" y2="620.24" stroke-width="2" stroke-linecap="butt"/>
<line x1="342.3" y1="590.48" x2="345.8" y2="590.48" stroke-width="2" stroke-linecap="butt"/>
<line x1="342.3" y1="560.72" x2="345.8" y2="560.72" stroke-width="2" stroke-linecap="butt"/>
<line x1="342.3" y1="530.96" x2="345.8" y2="530.96" stroke-width="2" stroke-linecap="butt"/>
<line x1="342.3" y1="501.2" x2="345.8" y2="501.2" stroke-width="2" stroke-linecap="butt"/>
<text x="340" y="656.22" font-size="19" text-anchor="end" font-family='"Liberation Serif", serif' font-weight="normal">0.01</text>
<text x="340" y="626.46" font-size="19" text-anchor="end" font-family='"Liberation Serif", serif' font-weight="normal">0.1</text>
<text x="340" y="596.7" font-size="19" text-anchor="end" font-family='"Liberation Serif", serif' font-weight="normal">1</text>
<text x="340" y="566.94" font-size="19" text-anchor="end" font-family='"Liberation Serif", serif' font-weight="normal">10</text>
<text x="340" y="537.18" font-size="19" text-anchor="end" font-family='"Liberation Serif", serif' font-weight="normal">100</text>
<text x="340" y="507.42" font-size="19" text-anchor="end" font-family='"Liberation Serif", serif' font-weight="normal">1000</text>
<line x1="345.8" y1="650" x2="345.8" y2="653.5" stroke-width="2" stroke-linecap="butt"/>
<line x1="367.4" y1="650" x2="367.4" y2="653.5" stroke-width="2" stroke-linecap="butt"/>
<line x1="388.65" y1="650" x2="388.65" y2="653.5" stroke-width="2" stroke-linecap="butt"/>
<line x1="409.9" y1="650" x2="409.9" y2="653.5" stroke-width="2" stroke-linecap="butt"/>
<line x1="431.15" y1="650" x2="431.15" y2="653.5" stroke-width="2" stroke-linecap="butt"/>
<line x1="452.4" y1="650" x2="452.4" y2="653.5" stroke-width="2" stroke-linecap="butt"/>
<line x1="473.65" y1="650" x2="473.65" y2="653.5" stroke-width="2" stroke-linecap="butt"/>
<line x1="494.9" y1="650" x2="494.9" y2="653.5" stroke-width="2" stroke-linecap="butt"/>
<line x1="516.7" y1="650" x2="516.7" y2="653.5" stroke-width="2" stroke-linecap="butt"/>
<text x="356.9" y="671.5" font-size="19" text-anchor="middle" font-family='"Liberation Serif", serif' font-weight="normal">0</text>
<text x="377.91" y="671.5" font-size="19" text-anchor="middle" font-family='"Liberation Serif", serif' font-weight="normal">2</text>
<text x="398.92" y="671.5" font-size="19" text-anchor="middle" font-family='"Liberation Serif", serif' font-weight="normal">4</text>
<text x="419.93" y="671.5" font-size="19" text-anchor="middle" font-family='"Liberation Serif", serif' font-weight="normal">6</text>
<text x="440.94" y="671.5" font-size="19" text-anchor="middle" font-family='"Liberation Serif", serif' font-weight="normal">8</text>
<text x="462.35" y="671.5" font-size="19" text-anchor="middle" font-family='"Liberation Serif", serif' font-weight="normal" letter-spacing="-0.8">10</text>
<text x="483.36" y="671.5" font-size="19" text-anchor="middle" font-family='"Liberation Serif", serif' font-weight="normal" letter-spacing="-0.8">14</text>
<text x="504.37" y="671.5" font-size="19" text-anchor="middle" font-family='"Liberation Serif", serif' font-weight="normal" letter-spacing="-0.8">16</text>
<text x="438.7" y="695.6" font-size="20.3" text-anchor="middle" font-family='"Liberation Serif", serif' font-weight="normal">Time (d)</text>
<text x="287.6" y="581.2" font-size="19.3" text-anchor="middle" font-family='"Liberation Serif", serif' font-weight="normal" transform="rotate(-90 287.6 581.2)">CD71<tspan font-size="17" dy="-5.5">+</tspan><tspan dy="5.5">Ter119</tspan><tspan font-size="17" dy="-5.5">+</tspan></text>
<text x="309" y="578.3" font-size="19.5" text-anchor="middle" font-family='"Liberation Serif", serif' font-weight="normal" transform="rotate(-90 309 578.3)">(x10<tspan font-size="14.5" dy="-6.8">6</tspan><tspan dy="6.8">)</tspan></text>
<line x1="357" y1="562" x2="357" y2="570.1" stroke-width="1.6" stroke-linecap="butt"/>
<line x1="354.3" y1="562" x2="359.7" y2="562" stroke-width="1.7" stroke-linecap="butt"/>
<line x1="354.3" y1="570.1" x2="359.7" y2="570.1" stroke-width="1.7" stroke-linecap="butt"/>
<line x1="378" y1="615.5" x2="378" y2="624.6" stroke-width="1.6" stroke-linecap="butt"/>
<line x1="375.3" y1="615.5" x2="380.7" y2="615.5" stroke-width="1.7" stroke-linecap="butt"/>
<line x1="375.3" y1="624.6" x2="380.7" y2="624.6" stroke-width="1.7" stroke-linecap="butt"/>
<line x1="378" y1="602.5" x2="378" y2="617" stroke-width="1.6" stroke-linecap="butt"/>
<line x1="375.3" y1="602.5" x2="380.7" y2="602.5" stroke-width="1.7" stroke-linecap="butt"/>
<line x1="375.3" y1="617" x2="380.7" y2="617" stroke-width="1.7" stroke-linecap="butt"/>
<line x1="398.8" y1="601.3" x2="398.8" y2="617" stroke-width="1.6" stroke-linecap="butt"/>
<line x1="396.1" y1="601.3" x2="401.5" y2="601.3" stroke-width="1.7" stroke-linecap="butt"/>
<line x1="396.1" y1="617" x2="401.5" y2="617" stroke-width="1.7" stroke-linecap="butt"/>
<line x1="399.3" y1="606.6" x2="399.3" y2="620.6" stroke-width="1.6" stroke-linecap="butt"/>
<line x1="420.6" y1="600.5" x2="420.6" y2="612" stroke-width="1.6" stroke-linecap="butt"/>
<line x1="417.9" y1="600.5" x2="423.3" y2="600.5" stroke-width="1.7" stroke-linecap="butt"/>
<line x1="417.9" y1="612" x2="423.3" y2="612" stroke-width="1.7" stroke-linecap="butt"/>
<line x1="420.6" y1="607.3" x2="420.6" y2="632" stroke-width="1.6" stroke-linecap="butt"/>
<line x1="417.9" y1="607.3" x2="423.3" y2="607.3" stroke-width="1.7" stroke-linecap="butt"/>
<line x1="417.9" y1="632" x2="423.3" y2="632" stroke-width="1.7" stroke-linecap="butt"/>
<line x1="442.3" y1="553" x2="442.3" y2="563" stroke-width="1.6" stroke-linecap="butt"/>
<line x1="439.6" y1="553" x2="445" y2="553" stroke-width="1.7" stroke-linecap="butt"/>
<line x1="439.6" y1="563" x2="445" y2="563" stroke-width="1.7" stroke-linecap="butt"/>
<line x1="463" y1="541" x2="463" y2="553.1" stroke-width="1.6" stroke-linecap="butt"/>
<line x1="460.3" y1="541" x2="465.7" y2="541" stroke-width="1.7" stroke-linecap="butt"/>
<line x1="460.3" y1="553.1" x2="465.7" y2="553.1" stroke-width="1.7" stroke-linecap="butt"/>
<line x1="463" y1="540" x2="463" y2="545.3" stroke-width="1.6" stroke-linecap="butt"/>
<line x1="460.3" y1="540" x2="465.7" y2="540" stroke-width="1.7" stroke-linecap="butt"/>
<line x1="460.3" y1="545.3" x2="465.7" y2="545.3" stroke-width="1.7" stroke-linecap="butt"/>
<line x1="484.1" y1="517" x2="484.1" y2="526.5" stroke-width="1.6" stroke-linecap="butt"/>
<line x1="481.4" y1="517" x2="486.8" y2="517" stroke-width="1.7" stroke-linecap="butt"/>
<line x1="481.4" y1="526.5" x2="486.8" y2="526.5" stroke-width="1.7" stroke-linecap="butt"/>
<line x1="505.6" y1="528" x2="505.6" y2="535.5" stroke-width="1.6" stroke-linecap="butt"/>
<line x1="502.9" y1="528" x2="508.3" y2="528" stroke-width="1.7" stroke-linecap="butt"/>
<line x1="502.9" y1="535.5" x2="508.3" y2="535.5" stroke-width="1.7" stroke-linecap="butt"/>
<polyline points="357,564.6 378,620.6 399.3,620.6 420.6,607.3 442.3,556.5 463,545 484.2,522.6 505.6,532" fill="none" stroke-width="2.2" stroke-linejoin="round"/>
<polyline points="356.8,544.8 378,607.6 398.8,606.6 420.6,626.5 441.9,626.4 463,542 484.2,519.5 505.5,523.6" fill="none" stroke-width="2.2" stroke-linejoin="round"/>
<path d="M357 559.5L361.2 564.6L357 569.7L352.8 564.6Z" fill="#0a0a0a" stroke="#0a0a0a" stroke-width="0.8" stroke-linejoin="miter"/>
<path d="M378 615.5L382.2 620.6L378 625.7L373.8 620.6Z" fill="#0a0a0a" stroke="#0a0a0a" stroke-width="0.8" stroke-linejoin="miter"/>
<path d="M399.3 615.5L403.5 620.6L399.3 625.7L395.1 620.6Z" fill="#0a0a0a" stroke="#0a0a0a" stroke-width="0.8" stroke-linejoin="miter"/>
<path d="M420.6 602.2L424.8 607.3L420.6 612.4L416.4 607.3Z" fill="#0a0a0a" stroke="#0a0a0a" stroke-width="0.8" stroke-linejoin="miter"/>
<path d="M442.3 551.4L446.5 556.5L442.3 561.6L438.1 556.5Z" fill="#0a0a0a" stroke="#0a0a0a" stroke-width="0.8" stroke-linejoin="miter"/>
<path d="M463 539.9L467.2 545L463 550.1L458.8 545Z" fill="#0a0a0a" stroke="#0a0a0a" stroke-width="0.8" stroke-linejoin="miter"/>
<path d="M484.2 517.5L488.4 522.6L484.2 527.7L480 522.6Z" fill="#0a0a0a" stroke="#0a0a0a" stroke-width="0.8" stroke-linejoin="miter"/>
<path d="M505.6 526.9L509.8 532L505.6 537.1L501.4 532Z" fill="#0a0a0a" stroke="#0a0a0a" stroke-width="0.8" stroke-linejoin="miter"/>
<rect x="353.4" y="541.4" width="6.8" height="6.8" fill="#fff" stroke-width="1.6"/>
<rect x="374.6" y="604.2" width="6.8" height="6.8" fill="#fff" stroke-width="1.6"/>
<rect x="395.4" y="603.2" width="6.8" height="6.8" fill="#fff" stroke-width="1.6"/>
<rect x="417.2" y="623.1" width="6.8" height="6.8" fill="#fff" stroke-width="1.6"/>
<rect x="438.5" y="623" width="6.8" height="6.8" fill="#fff" stroke-width="1.6"/>
<rect x="459.6" y="538.6" width="6.8" height="6.8" fill="#fff" stroke-width="1.6"/>
<rect x="480.8" y="516.1" width="6.8" height="6.8" fill="#fff" stroke-width="1.6"/>
<rect x="502.1" y="520.2" width="6.8" height="6.8" fill="#fff" stroke-width="1.6"/>
<path d="M372.7 511.8L377.6 516.7L372.7 521.6L367.8 516.7Z" fill="#0a0a0a" stroke="#0a0a0a" stroke-width="0.8" stroke-linejoin="miter"/>
<rect x="369.05" y="530.05" width="6.9" height="6.9" fill="#fff" stroke-width="1.6"/>
<text x="382.7" y="521.6" font-size="17.12" text-anchor="start" font-family='"Liberation Serif", serif' font-weight="normal">Lyn<tspan font-size="15.41" dy="-4.62">+/+</tspan></text>
<text x="382.7" y="538.6" font-size="17.12" text-anchor="start" font-family='"Liberation Serif", serif' font-weight="normal">Lyn<tspan font-size="15.41" dy="-4.62">-/-</tspan></text>
<text x="0.5" y="703.3" font-size="24.5" text-anchor="start" font-family='"Liberation Sans", sans-serif' font-weight="bold">G</text>
<rect x="79.4" y="715.5" width="169.6" height="139.7" fill="none" stroke-width="2.2"/>
<line x1="75.9" y1="855.2" x2="79.4" y2="855.2" stroke-width="2" stroke-linecap="butt"/>
<line x1="75.9" y1="819.54" x2="79.4" y2="819.54" stroke-width="2" stroke-linecap="butt"/>
<line x1="75.9" y1="783.88" x2="79.4" y2="783.88" stroke-width="2" stroke-linecap="butt"/>
<line x1="75.9" y1="748.22" x2="79.4" y2="748.22" stroke-width="2" stroke-linecap="butt"/>
<line x1="76.9" y1="837.37" x2="79.4" y2="837.37" stroke-width="2" stroke-linecap="butt"/>
<line x1="76.9" y1="801.71" x2="79.4" y2="801.71" stroke-width="2" stroke-linecap="butt"/>
<line x1="76.9" y1="766.05" x2="79.4" y2="766.05" stroke-width="2" stroke-linecap="butt"/>
<line x1="76.9" y1="730.39" x2="79.4" y2="730.39" stroke-width="2" stroke-linecap="butt"/>
<text x="72" y="862.42" font-size="19" text-anchor="end" font-family='"Liberation Serif", serif' font-weight="normal">0</text>
<text x="72" y="826.59" font-size="19" text-anchor="end" font-family='"Liberation Serif", serif' font-weight="normal">20</text>
<text x="72" y="790.76" font-size="19" text-anchor="end" font-family='"Liberation Serif", serif' font-weight="normal">40</text>
<text x="72" y="754.93" font-size="19" text-anchor="end" font-family='"Liberation Serif", serif' font-weight="normal">60</text>
<line x1="79.4" y1="855.2" x2="79.4" y2="858.2" stroke-width="2" stroke-linecap="butt"/>
<line x1="164.7" y1="855.2" x2="164.7" y2="858.2" stroke-width="2" stroke-linecap="butt"/>
<line x1="249" y1="855.2" x2="249" y2="858.2" stroke-width="2" stroke-linecap="butt"/>
<line x1="109.45" y1="753.8" x2="109.45" y2="774.2" stroke-width="2" stroke-linecap="butt"/>
<line x1="106.65" y1="753.8" x2="112.25" y2="753.8" stroke-width="2.4" stroke-linecap="butt"/>
<rect x="96.5" y="774.2" width="25.9" height="81" fill="#1c1c1c" stroke="none"/>
<line x1="134.3" y1="835.2" x2="134.3" y2="840.4" stroke-width="2" stroke-linecap="butt"/>
<line x1="131.5" y1="835.2" x2="137.1" y2="835.2" stroke-width="2.4" stroke-linecap="butt"/>
<rect x="123.4" y="841.4" width="21.8" height="13.8" fill="#fff" stroke-width="2"/>
<line x1="194.75" y1="759.1" x2="194.75" y2="768" stroke-width="2" stroke-linecap="butt"/>
<line x1="191.95" y1="759.1" x2="197.55" y2="759.1" stroke-width="2.4" stroke-linecap="butt"/>
<rect x="181.8" y="768" width="25.9" height="87.2" fill="#1c1c1c" stroke="none"/>
<line x1="219.55" y1="800" x2="219.55" y2="802.2" stroke-width="2" stroke-linecap="butt"/>
<line x1="216.75" y1="800" x2="222.35" y2="800" stroke-width="2.4" stroke-linecap="butt"/>
<rect x="208.7" y="803.2" width="21.7" height="52" fill="#fff" stroke-width="2"/>
<rect x="173.5" y="726" width="17.7" height="8.6" fill="#1c1c1c" stroke="none"/>
<rect x="174.4" y="742.9" width="15.9" height="6.9" fill="#fff" stroke-width="1.8"/>
<text x="196.2" y="735" font-size="17.44" text-anchor="start" font-family='"Liberation Serif", serif' font-weight="normal">Lyn<tspan font-size="15.7" dy="-4.71">+/+</tspan></text>
<text x="196.2" y="752" font-size="17.44" text-anchor="start" font-family='"Liberation Serif", serif' font-weight="normal">Lyn<tspan font-size="15.7" dy="-4.71">-/-</tspan></text>
<text x="121" y="880.4" font-size="19.7" text-anchor="middle" font-family='"Liberation Serif", serif' font-weight="normal">CFU-e</text>
<text x="205.6" y="880.4" font-size="19.7" text-anchor="middle" font-family='"Liberation Serif", serif' font-weight="normal">BFU-e</text>
<text x="163.9" y="906.2" font-size="19.5" text-anchor="middle" font-family='"Liberation Serif", serif' font-weight="normal">Day 3 5FU</text>
<text x="15.2" y="787.5" font-size="19.6" text-anchor="middle" font-family='"Liberation Serif", serif' font-weight="normal" transform="rotate(-90 15.2 787.5)">Colonies per</text>
<text x="36" y="787.9" font-size="19.7" text-anchor="middle" font-family='"Liberation Serif", serif' font-weight="normal" transform="rotate(-90 36 787.9)">3.2 x 10<tspan font-size="17.5" dy="-5.2">5</tspan><tspan dy="5.2"> cells</tspan></text>
<text x="269.8" y="703.8" font-size="24.5" text-anchor="start" font-family='"Liberation Sans", sans-serif' font-weight="bold">H</text>
<rect x="346.4" y="715" width="169.2" height="140.4" fill="none" stroke-width="2.2"/>
<line x1="342.9" y1="855.4" x2="346.4" y2="855.4" stroke-width="2" stroke-linecap="butt"/>
<line x1="342.9" y1="808.6" x2="346.4" y2="808.6" stroke-width="2" stroke-linecap="butt"/>
<line x1="342.9" y1="761.8" x2="346.4" y2="761.8" stroke-width="2" stroke-linecap="butt"/>
<line x1="342.9" y1="715" x2="346.4" y2="715" stroke-width="2" stroke-linecap="butt"/>
<line x1="343.9" y1="832" x2="346.4" y2="832" stroke-width="2" stroke-linecap="butt"/>
<line x1="343.9" y1="785.2" x2="346.4" y2="785.2" stroke-width="2" stroke-linecap="butt"/>
<line x1="343.9" y1="738.4" x2="346.4" y2="738.4" stroke-width="2" stroke-linecap="butt"/>
<text x="338.3" y="860.62" font-size="19" text-anchor="end" font-family='"Liberation Serif", serif' font-weight="normal">0</text>
<text x="338.3" y="814.82" font-size="19" text-anchor="end" font-family='"Liberation Serif", serif' font-weight="normal">20</text>
<text x="338.3" y="769.02" font-size="19" text-anchor="end" font-family='"Liberation Serif", serif' font-weight="normal">40</text>
<text x="338.3" y="723.22" font-size="19" text-anchor="end" font-family='"Liberation Serif", serif' font-weight="normal">60</text>
<line x1="346.4" y1="855.4" x2="346.4" y2="858.4" stroke-width="2" stroke-linecap="butt"/>
<line x1="430.2" y1="855.4" x2="430.2" y2="858.4" stroke-width="2" stroke-linecap="butt"/>
<line x1="515.6" y1="855.4" x2="515.6" y2="858.4" stroke-width="2" stroke-linecap="butt"/>
<line x1="376.4" y1="741.6" x2="376.4" y2="742.2" stroke-width="2" stroke-linecap="butt"/>
<line x1="374.1" y1="741.6" x2="378.7" y2="741.6" stroke-width="2.4" stroke-linecap="butt"/>
<rect x="363.8" y="742.2" width="25.2" height="113.2" fill="#1c1c1c" stroke="none"/>
<line x1="401.25" y1="731.8" x2="401.25" y2="736.7" stroke-width="2" stroke-linecap="butt"/>
<line x1="398.45" y1="731.8" x2="404.05" y2="731.8" stroke-width="2.4" stroke-linecap="butt"/>
<rect x="390" y="737.7" width="22.5" height="117.7" fill="#fff" stroke-width="2"/>
<line x1="460.95" y1="838.7" x2="460.95" y2="839.2" stroke-width="2" stroke-linecap="butt"/>
<line x1="457.95" y1="838.7" x2="463.95" y2="838.7" stroke-width="2.4" stroke-linecap="butt"/>
<rect x="448.2" y="839.2" width="25.5" height="16.2" fill="#1c1c1c" stroke="none"/>
<line x1="485.8" y1="838.7" x2="485.8" y2="839.2" stroke-width="2" stroke-linecap="butt"/>
<line x1="482.8" y1="838.7" x2="488.8" y2="838.7" stroke-width="2.4" stroke-linecap="butt"/>
<rect x="474.7" y="840.2" width="22.2" height="15.2" fill="#fff" stroke-width="2"/>
<rect x="439.3" y="726.1" width="17.3" height="8.1" fill="#1c1c1c" stroke="none"/>
<rect x="440.2" y="743.9" width="15.5" height="6.3" fill="#fff" stroke-width="1.8"/>
<text x="461.9" y="735.1" font-size="17.44" text-anchor="start" font-family='"Liberation Serif", serif' font-weight="normal">Lyn<tspan font-size="15.7" dy="-4.71">+/+</tspan></text>
<text x="461.9" y="752" font-size="17.44" text-anchor="start" font-family='"Liberation Serif", serif' font-weight="normal">Lyn<tspan font-size="15.7" dy="-4.71">-/-</tspan></text>
<text x="356.7" y="879.7" font-size="20" text-anchor="start" font-family='"Liberation Serif", serif' font-weight="normal">CD71<tspan font-size="17" dy="-8.1">pos</tspan></text>
<text x="439.4" y="879.7" font-size="20" text-anchor="start" font-family='"Liberation Serif", serif' font-weight="normal">Mac1<tspan font-size="17" dy="-8.1">pos</tspan></text>
<text x="306.6" y="834.2" font-size="20" text-anchor="start" font-family='"Liberation Serif", serif' font-weight="normal" transform="rotate(-90 306.6 834.2)" xml:space="preserve">%  BrdU<tspan font-size="17" dy="-8.1">pos</tspan></text>
</g>
</svg>
</body></html>
